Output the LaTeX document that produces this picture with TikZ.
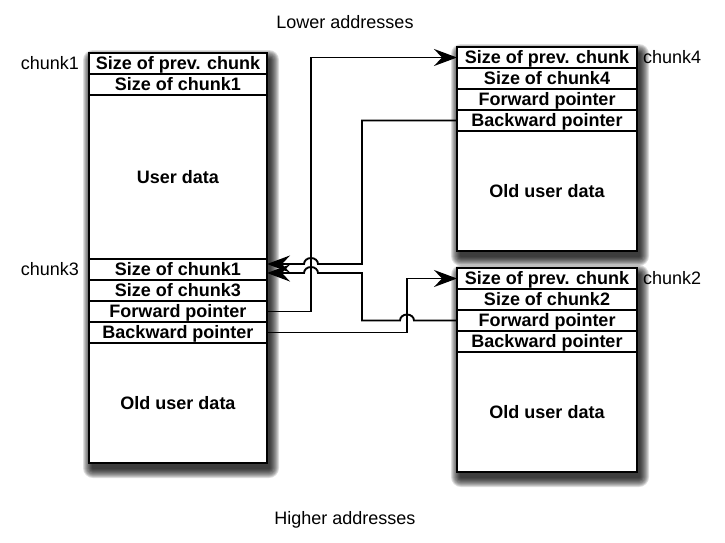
\documentclass[tikz,border=0pt]{standalone}
\usepackage{fontspec}
\setmainfont{Liberation Sans}
\usetikzlibrary{arrows.meta,positioning,calc}
\newcommand\blkshadow[4]{%
  \foreach \k [evaluate=\k as \r using 10-\k] in {0,...,9}{
    \fill[black,opacity=0.13,rounded corners=\r pt] ({#1-6+\k},{#2-3+\k}) rectangle ({#3+12-\k},{#4+15-\k});
  }}
\tikzset{
  row/.style={draw, line width=1.8pt, fill=white, minimum width=178pt, minimum height=21pt,
    inner sep=0pt, outer sep=0pt, font=\fontsize{18}{20}\selectfont\bfseries,
    text height=12.9pt, text depth=0pt},
  rrow/.style={row, minimum width=180pt},
  outer/.style={line width=2.8pt},
  lab/.style={font=\fontsize{18}{20}\selectfont, inner sep=0pt, text height=12.9pt, text depth=0pt},
  conn/.style={line width=1.9pt},
  tip/.style={-{Stealth[length=23pt,width=17pt,inset=8pt]}}
}
\begin{document}
\begin{tikzpicture}[x=1pt,y=-1pt]
\useasboundingbox (0,0) rectangle (725,542);
\fill[white] (0,0) rectangle (725,542);
% shadows
\blkshadow{89}{53}{267}{463}
\blkshadow{457}{47}{637}{251}
\blkshadow{457}{268}{637}{472}
% left block: chunk1 + chunk3
\node[row] (c1prev) at (178,63.5) {Size of prev. chunk};
\node[row] (c1size) at (178,84.5) {Size of chunk1};
\node[row, minimum height=164pt] (c1data) at (178,177) {User data};
\node[row] (c3size1) at (178,269.5) {Size of chunk1};
\node[row] (c3size3) at (178,290.5) {Size of chunk3};
\node[row] (c3fwd) at (178,311.5) {Forward pointer};
\node[row] (c3bwd) at (178,332.5) {Backward pointer};
\node[row, minimum height=120pt] (c3data) at (178,403) {Old user data};
\draw[outer] (c1prev.north west) rectangle (c3data.south east);
% chunk4
\node[rrow] (c4prev) at (547,57.5) {Size of prev. chunk};
\node[rrow] (c4size) at (547,78.5) {Size of chunk4};
\node[rrow] (c4fwd) at (547,99.5) {Forward pointer};
\node[rrow] (c4bwd) at (547,120.5) {Backward pointer};
\node[rrow, minimum height=120pt] (c4data) at (547,191) {Old user data};
\draw[outer] (c4prev.north west) rectangle (c4data.south east);
% chunk2
\node[rrow] (c2prev) at (547,278.5) {Size of prev. chunk};
\node[rrow] (c2size) at (547,299.5) {Size of chunk2};
\node[rrow] (c2fwd) at (547,320.5) {Forward pointer};
\node[rrow] (c2bwd) at (547,341.5) {Backward pointer};
\node[rrow, minimum height=120pt] (c2data) at (547,412) {Old user data};
\draw[outer] (c2prev.north west) rectangle (c2data.south east);
% labels
\node[lab, left=10pt of c1prev] (l1) {chunk1};
\node[lab, left=10pt of c3size1] (l3) {chunk3};
\node[lab, right=6pt of c4prev] (l4) {chunk4};
\node[lab, right=6pt of c2prev] (l2) {chunk2};
\node[lab] (lower) at (345,22) {Lower addresses};
\node[lab] (higher) at (345,518) {Higher addresses};
% connectors
\draw[conn,tip] (c3fwd.east) -- ++(44,0) |- (c4prev.west);
\draw[conn,tip] (c3bwd.east) -- ++(140,0) |- (c2prev.west);
\draw[conn,tip] (c4bwd.west) -- ++(-95,0) |- ([xshift=51pt,yshift=5.5pt]c3size1.east)
  arc[start angle=0,end angle=180,x radius=7pt,y radius=6pt] -- ([yshift=5.5pt]c3size1.east);
\draw[conn,tip] (c2fwd.west) -- ++(-43,0) arc[start angle=0,end angle=180,x radius=7pt,y radius=6pt]
  -- ++(-38,0) |- ([xshift=51pt,yshift=-3.5pt]c3size1.east)
  arc[start angle=0,end angle=180,x radius=7pt,y radius=6pt] -- ([yshift=-3.5pt]c3size1.east);
\end{tikzpicture}
\end{document}
